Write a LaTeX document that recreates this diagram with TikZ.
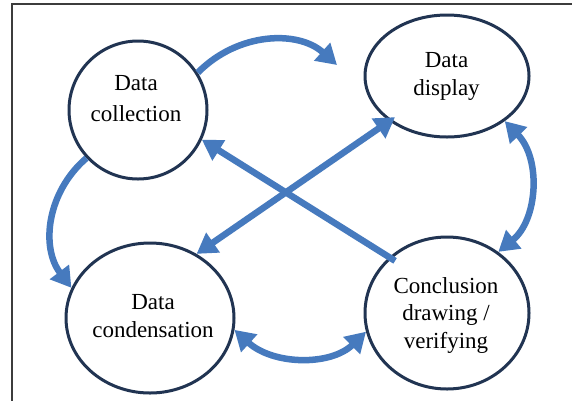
\documentclass[tikz,border=0pt]{standalone}
\usepackage{fontspec}
\setmainfont{Liberation Serif}
\usetikzlibrary{arrows.meta,shapes.geometric}
\definecolor{ablue}{RGB}{70,122,190}
\definecolor{navy}{RGB}{33,52,82}
\definecolor{framec}{RGB}{60,60,60}
\tikzset{
  ell/.style={ellipse, draw=navy, line width=3pt, fill=white, inner sep=0pt},
  txt/.style={align=center, inner sep=0pt, text=black},
  arr/.style={draw=ablue, line width=6.5pt, -{Triangle[length=20pt,width=23pt]}},
  darr/.style={draw=ablue, line width=6.5pt, {Triangle[length=20pt,width=23pt]}-{Triangle[length=20pt,width=23pt]}}
}
\begin{document}
\begin{tikzpicture}[x=1pt,y=-1pt]
\useasboundingbox (0,0) rectangle (572,400);
\fill[white] (0,0) rectangle (572,400);
% frame
\draw[framec, line width=1.6pt] (12,402) -- (12,4) -- (574,4);
% nodes
\node[ell, minimum width=138pt, minimum height=138pt] (coll) at (138,110) {};
\node[ell, minimum width=164pt, minimum height=122pt] (disp) at (447,76) {};
\node[ell, minimum width=168pt, minimum height=150pt] (cond) at (150,318) {};
\node[ell, minimum width=164pt, minimum height=152pt] (concl) at (447,313) {};
\coordinate (t1) at (337,65);
% arrows
\draw[arr] (coll.32) .. controls (238,32) and (298,30) .. (t1);
\draw[arr] (coll.223) .. controls (47,192) and (40.5,247) .. (cond.159);
\draw[darr] (disp.-38.4) .. controls (541.4,159.1) and (537.7,219.6) .. (concl.50.7);
\draw[darr] (cond.-8) .. controls (273.2,365.2) and (330.7,366) .. (concl.193.5);
\draw[darr, shorten >=-7pt] (cond.54) -- (disp.218);
\draw[arr, shorten <=-7pt] (concl.136.4) -- (coll.-25);
% texts
\node[txt, font=\fontsize{23}{31}\selectfont] (collT) at (136,98.5) {Data\\collection};
\node[txt, font=\fontsize{23}{28}\selectfont] (dispT) at (446.5,76.5) {Data\\display};
\node[txt, font=\fontsize{23}{28}\selectfont] (condT) at (153,316.5) {Data\\condensation};
\node[txt, font=\fontsize{23}{27.5}\selectfont] (conclT) at (446,315) {Conclusion\\drawing /\\verifying};
\end{tikzpicture}
\end{document}
